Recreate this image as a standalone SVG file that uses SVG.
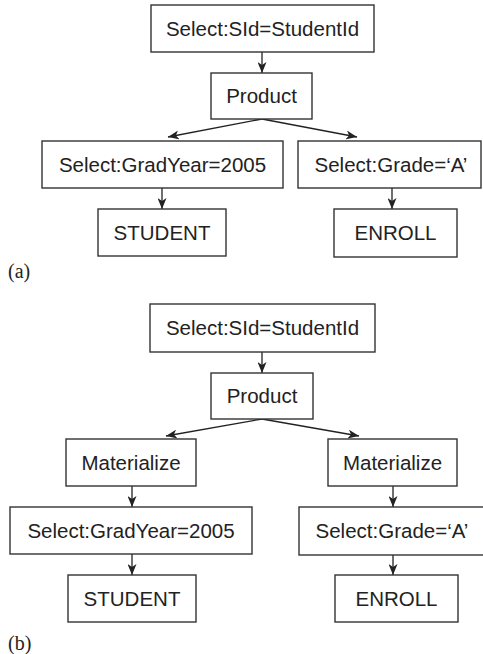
<svg xmlns="http://www.w3.org/2000/svg" width="483" height="654" viewBox="0 0 483 654">
<style>
  rect.box { fill: #fff; stroke: #333; stroke-width: 1.4; }
  text.lbl { font-family: "Liberation Sans", Arial, sans-serif; font-size: 20.5px; fill: #222; text-anchor: middle; }
  text.cap { font-family: "Liberation Serif", "Times New Roman", serif; font-size: 20px; fill: #222; }
  .edge { stroke: #222; stroke-width: 1.3; fill: none; marker-end: url(#arr); }
</style>
<defs>
  <marker id="arr" markerUnits="userSpaceOnUse" markerWidth="12" markerHeight="9" refX="11" refY="4.5" orient="auto">
    <path d="M0,0 L11,4.5 L0,9 L3,4.5 Z" fill="#222"/>
  </marker>
</defs>
<rect width="483" height="654" fill="#fff"/>

<g id="connectors">
  <line class="edge" x1="262" y1="52" x2="262" y2="73"/>
  <line class="edge" x1="262" y1="119" x2="168" y2="137"/>
  <line class="edge" x1="262" y1="119" x2="357" y2="137"/>
  <line class="edge" x1="162" y1="188" x2="162" y2="209"/>
  <line class="edge" x1="392" y1="188" x2="392" y2="209"/>

  <line class="edge" x1="262" y1="352" x2="262" y2="373"/>
  <line class="edge" x1="262" y1="419" x2="166" y2="436"/>
  <line class="edge" x1="262" y1="419" x2="359" y2="436"/>
  <line class="edge" x1="132" y1="486" x2="132" y2="507"/>
  <line class="edge" x1="393" y1="486" x2="393" y2="507"/>
  <line class="edge" x1="132" y1="554" x2="132" y2="575"/>
  <line class="edge" x1="393" y1="555" x2="393" y2="575"/>
</g>

<g id="a-select-sid"><rect class="box" x="151" y="5" width="223" height="47"/><text class="lbl" x="262.5" y="35.8">Select:SId=StudentId</text></g>
<g id="a-product"><rect class="box" x="211" y="73" width="101" height="46"/><text class="lbl" x="261.5" y="103.3">Product</text></g>
<g id="a-select-gradyear"><rect class="box" x="42" y="141" width="241" height="47"/><text class="lbl" x="162.5" y="171.8">Select:GradYear=2005</text></g>
<g id="a-select-grade"><rect class="box" x="298" y="141" width="183" height="47"/><text class="lbl" x="391" y="171.8">Select:Grade=‘A’</text></g>
<g id="a-student"><rect class="box" x="98" y="209" width="128" height="47"/><text class="lbl" x="162" y="239.8">STUDENT</text></g>
<g id="a-enroll"><rect class="box" x="334" y="209" width="123" height="48"/><text class="lbl" x="395.5" y="240.3">ENROLL</text></g>
<text class="cap" x="8" y="278">(a)</text>

<g id="b-select-sid"><rect class="box" x="150" y="304" width="225" height="48"/><text class="lbl" x="262.5" y="335.3">Select:SId=StudentId</text></g>
<g id="b-product"><rect class="box" x="211" y="373" width="102" height="46"/><text class="lbl" x="262" y="403.3">Product</text></g>
<g id="b-materialize-left"><rect class="box" x="66" y="439" width="130" height="47"/><text class="lbl" x="131" y="469.8">Materialize</text></g>
<g id="b-materialize-right"><rect class="box" x="328" y="439" width="129" height="47"/><text class="lbl" x="392.5" y="469.8">Materialize</text></g>
<g id="b-select-gradyear"><rect class="box" x="10" y="507" width="242" height="47"/><text class="lbl" x="131" y="537.8">Select:GradYear=2005</text></g>
<g id="b-select-grade"><rect class="box" x="299" y="507" width="186" height="48"/><text class="lbl" x="392" y="538.3">Select:Grade=‘A’</text></g>
<g id="b-student"><rect class="box" x="68" y="575" width="128" height="47"/><text class="lbl" x="132" y="605.8">STUDENT</text></g>
<g id="b-enroll"><rect class="box" x="335" y="575" width="123" height="47"/><text class="lbl" x="396.5" y="605.8">ENROLL</text></g>
<text class="cap" x="8" y="650">(b)</text>
</svg>
